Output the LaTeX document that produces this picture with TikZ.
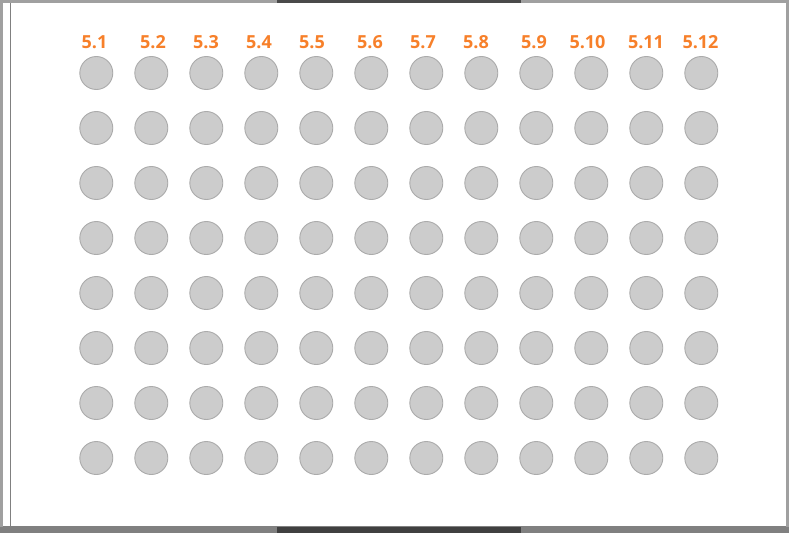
\documentclass[tikz,border=0pt]{standalone}
\usepackage{fontspec}
\setmainfont{Open Sans}
\usepackage{tikz}
\usetikzlibrary{positioning}
\usepackage{xcolor}
\definecolor{wellfill}{HTML}{CCCCCC}
\definecolor{welledge}{HTML}{ABABAB}
\definecolor{labelorange}{HTML}{F7802A}
\definecolor{framelight}{HTML}{A0A0A0}
\definecolor{framedark}{HTML}{4A4A4A}
\definecolor{framebottom}{HTML}{808080}
\definecolor{framebottomdark}{HTML}{404040}

\begin{document}
\begin{tikzpicture}[x=1pt, y=-1pt,
    well/.style={circle, draw=welledge, fill=wellfill, line width=0.9pt,
                 minimum size=33pt, inner sep=0pt},
    collabel/.style={anchor=base, text=labelorange, inner sep=0pt,
                     font=\fontsize{18}{18}\selectfont\bfseries}]
    \useasboundingbox (0, 0) rectangle (789, 533);

    % 外框
    \fill[white] (0, 0) rectangle (789, 533);
    \fill[framelight] (0, 0) rectangle (789, 3);
    \fill[framedark] (277, 0) rectangle (521, 3);
    \fill[framelight] (0, 0) rectangle (3, 533);
    \fill[framelight] (786, 0) rectangle (789, 533);
    \fill[framebottom] (0, 527) rectangle (789, 533);
    \fill[framebottomdark] (277, 527) rectangle (521, 533);
    \draw[framebottom, line width=1.2pt] (3, 526.4) -- (786, 526.4);
    \draw[framebottom, line width=1.5pt] (10.3, 3) -- (10.3, 526.4);

    % 列标号
    \foreach \lx/\lab [count=\c] in {94.5/5.1, 153/5.2, 206/5.3, 259/5.4,
        312/5.5, 370/5.6, 423/5.7, 476/5.8, 534/5.9, 587.5/5.10,
        646/5.11, 700.5/5.12}
        \node[collabel] (col-\c) at (\lx, 48.3) {\lab};

    % 孔位
    \foreach \c in {1,...,12}
        \foreach \r in {1,...,8}
            \node[well] (well-\r-\c) at ({96.3 + 55*(\c-1)}, {73 + 55*(\r-1)}) {};
\end{tikzpicture}
\end{document}
